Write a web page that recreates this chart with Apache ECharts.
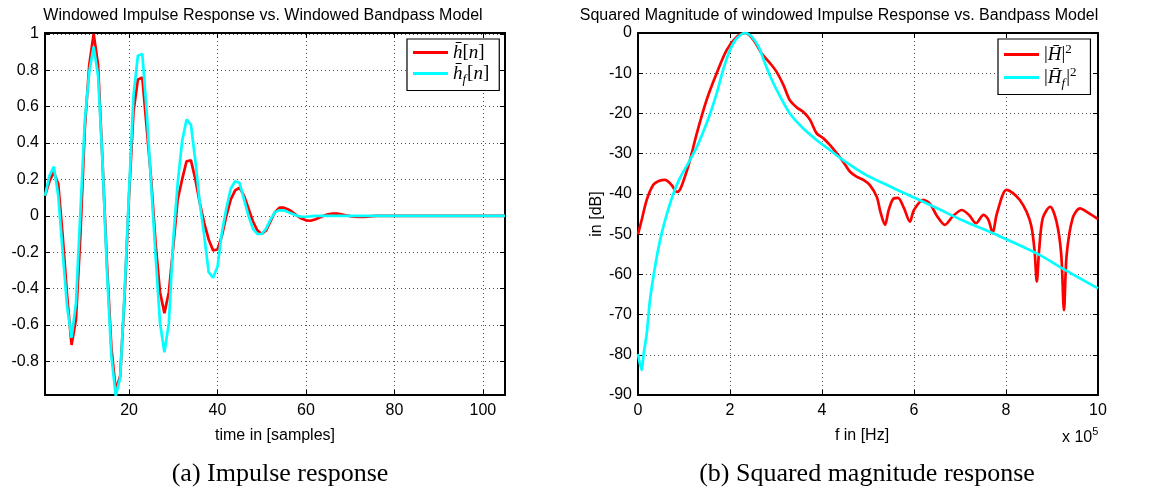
<!DOCTYPE html>
<html>
<head>
<meta charset="utf-8">
<script src="https://cdn.jsdelivr.net/npm/echarts@6/dist/echarts.min.js"></script>
<style>
html,body{margin:0;padding:0;background:#fff;}
#c{width:1157px;height:493px;}
</style>
</head>
<body>
<div id="c"></div>
<script>
// ---------- DATA ----------
// (a) impulse response, samples n = 1..105
const hRed = [0.11,0.19,0.24,0.175,-0.11,-0.44,-0.71,-0.57,-0.11,0.48,
  0.83,1.0,0.83,0.3,-0.26,-0.72,-0.96,-0.88,-0.44,0.11,
  0.57,0.75,0.76,0.48,0.2,-0.15,-0.42,-0.535,-0.42,-0.17,
  0.09,0.2,0.3,0.305,0.2,0.07,-0.04,-0.13,-0.19,-0.185,
  -0.11,0.0,0.09,0.14,0.155,0.11,0.04,-0.03,-0.08,-0.1,
  -0.08,-0.03,0.02,0.045,0.045,0.035,0.02,0.0,-0.015,-0.025,
  -0.027,-0.02,-0.01,0.0,0.008,0.012,0.012,0.008,0.003,-0.002,
  -0.005,-0.006,-0.006,-0.004,-0.002,0,0,0,0,0,
  0,0,0,0,0,0,0,0,0,0,
  0,0,0,0,0,0,0,0,0,0,
  0,0,0,0,0];
const hCyan = [0.11,0.22,0.27,0.11,-0.2,-0.5,-0.67,-0.48,0.02,0.52,
  0.79,0.93,0.77,0.3,-0.3,-0.77,-0.99,-0.89,-0.42,0.13,
  0.66,0.88,0.89,0.57,0.17,-0.22,-0.59,-0.75,-0.59,-0.13,
  0.18,0.41,0.53,0.5,0.3,0.07,-0.11,-0.31,-0.34,-0.28,
  -0.09,0.04,0.15,0.19,0.18,0.09,0.0,-0.07,-0.1,-0.1,
  -0.07,-0.02,0.02,0.03,0.03,0.02,0.01,0.0,-0.005,-0.005,
  -0.003,0,0,0,0,0,0,0,0,0,
  0,0,0,0,0,0,0,0,0,0,
  0,0,0,0,0,0,0,0,0,0,
  0,0,0,0,0,0,0,0,0,0,
  0,0,0,0,0];
const impulseXTicks = [20,40,60,80,100];
const impulseYTicks = [-0.8,-0.6,-0.4,-0.2,0,0.2,0.4,0.6,0.8,1];

// (b) squared magnitude, f in units of 1e5 Hz, dB
const magRedF = [0,0.08,0.19,0.33,0.45,0.59,0.73,0.84,0.91,1.02,1.13,1.28,1.49,1.71,1.93,2.15,2.33,
  2.51,2.69,2.87,3.01,3.16,3.30,3.45,3.59,3.74,3.88,4.03,4.17,4.32,4.46,4.61,4.75,4.9,5.04,5.19,5.27,
  5.37,5.45,5.55,5.65,5.78,5.91,6.0,6.2,6.35,6.5,6.67,6.85,7.04,7.2,7.35,7.51,7.62,7.71,7.8,8.01,
  8.15,8.3,8.45,8.55,8.62,8.67,8.72,8.8,8.96,9.1,9.2,9.26,9.32,9.45,9.61,9.8,10];
const magRedDb = [-50,-46.5,-41.5,-37.8,-36.8,-36.5,-37.8,-39.5,-39,-35.7,-31.6,-24.9,-16.7,-10,-4.2,-0.9,0,
  -1.7,-5.1,-7.5,-9.6,-12.9,-16.7,-18.5,-19.6,-21.6,-24.9,-26.2,-27.8,-29.9,-32,-34.5,-35.7,-36.5,-37.8,-40.7,-44.5,
  -47.7,-44,-41.2,-41,-43.5,-46.9,-44,-41.5,-42.5,-45.5,-47.7,-45.5,-44,-45.3,-47.3,-45.2,-46.5,-49.8,-45,-39,
  -39.8,-41.5,-44.5,-48,-54,-61.8,-54,-46,-43.2,-47,-55,-68.9,-55,-46,-43.6,-44.8,-46.3];
const magCyanF = [0,0.08,0.12,0.19,0.26,0.37,0.48,0.59,0.77,0.91,1.09,1.28,1.42,1.57,1.71,1.85,2.0,2.15,2.33,
  2.47,2.62,2.76,2.91,3.09,3.30,3.59,3.88,4.17,4.46,4.9,5.26,5.77,6.49,7.0,7.72,8.67,9.28,10];
const magCyanDb = [-79.8,-83.8,-80,-74.7,-66.4,-58.1,-51.5,-46.5,-39.9,-36.1,-32.4,-28.3,-24.5,-20,-15,-9.2,-4.2,-1.3,0,
  -0.9,-3.4,-7.5,-11.7,-15.8,-20,-23.7,-26.6,-29.1,-31.6,-34.9,-37,-39.7,-43.5,-46.3,-49.8,-54.8,-58.9,-63.5];

// ---------- CHART ----------
const FONT = 'Liberation Sans';
const SERIF = 'Liberation Serif';
const chart = echarts.init(document.getElementById('c'), null, {renderer:'canvas'});

const pairsN = arr => arr.map((v,i)=>[i+1,v]);
const zip = (a,b) => a.map((v,i)=>[v,b[i]]);

const gridLine = {show:true, lineStyle:{color:'#222', width:1, type:[1,3], opacity:0.8}};
const frameLine = {show:true, onZero:false, lineStyle:{color:'#000', width:2}};
const tickIn = (vals) => ({show:true, inside:true, length:5, lineStyle:{color:'#000', width:1}, customValues: vals});
const tickPlain = {show:true, inside:true, length:5, lineStyle:{color:'#000', width:1}};
const lbl = (extra) => Object.assign({color:'#000', fontFamily:FONT, fontSize:16}, extra||{});

const richMath = {
  it:{fontFamily:SERIF, fontStyle:'italic', fontSize:19, color:'#000'},
  rm:{fontFamily:SERIF, fontSize:19, color:'#000'},
  sub:{fontFamily:SERIF, fontStyle:'italic', fontSize:13, color:'#000', padding:[13,1,0,0]},
  sup:{fontFamily:SERIF, fontSize:13, color:'#000', padding:[0,0,10,0]}
};

const option = {
  animation:false,
  backgroundColor:'#fff',
  title:[
    {text:'Windowed Impulse Response vs. Windowed Bandpass Model', left:258, top:3, textAlign:'center',
     textStyle:{fontFamily:FONT, fontSize:16, fontWeight:'normal', color:'#000'}},
    {text:'Squared Magnitude of windowed Impulse Response vs. Bandpass Model', left:834, top:3, textAlign:'center',
     textStyle:{fontFamily:FONT, fontSize:16, fontWeight:'normal', color:'#000'}},
    {text:'(a) Impulse response', left:275, top:456, textAlign:'center',
     textStyle:{fontFamily:SERIF, fontSize:26, fontWeight:'normal', color:'#000'}},
    {text:'(b) Squared magnitude response', left:862, top:456, textAlign:'center',
     textStyle:{fontFamily:SERIF, fontSize:26, fontWeight:'normal', color:'#000'}}
  ],
  graphic:[
    {type:'text', left:1062, top:426, style:{text:'{a|x 10}{b|5}', rich:{
      a:{fontFamily:FONT, fontSize:16, color:'#000'},
      b:{fontFamily:FONT, fontSize:11, color:'#000', padding:[0,0,12,0]}}}}
  ],
  legend:[
    {data:['hbar','hbarf'], orient:'vertical', left:407, top:39, padding:[4,10,4,6], itemGap:2,
     itemWidth:35, itemHeight:3, icon:'rect', borderColor:'#000', borderWidth:1.2, backgroundColor:'#fff',
     formatter: n => n==='hbar' ? '{it|h\u0304}{rm|[}{it|n}{rm|]}' : '{it|h\u0304}{sub|f}{rm|[}{it|n}{rm|]}',
     textStyle:{rich:richMath}},
    {data:['Hbar','Hbarf'], orient:'vertical', left:998, top:39, padding:[4,14,4,6], itemGap:2,
     itemWidth:35, itemHeight:3, icon:'rect', borderColor:'#000', borderWidth:1.2, backgroundColor:'#fff',
     formatter: n => n==='Hbar' ? '{rm||}{it|H\u0304}{rm||}{sup|2}' : '{rm||}{it|H\u0304}{sub|f}{rm||}{sup|2}',
     textStyle:{rich:richMath}}
  ],
  grid:[
    {left:45, top:33, width:460, height:362, show:false},
    {left:638, top:33, width:460, height:362, show:false}
  ],
  xAxis:[
    {gridIndex:0, type:'value', min:1, max:105, position:'bottom',
     axisLine:frameLine, axisTick:tickIn(impulseXTicks), splitLine:gridLine,
     axisLabel:lbl({margin:8, customValues:impulseXTicks}),
     name:'time in [samples]', nameLocation:'middle', nameGap:33,
     nameTextStyle:{fontFamily:FONT, fontSize:16, color:'#000'}},
    {gridIndex:0, type:'value', min:1, max:105, position:'top',
     axisLine:frameLine, axisTick:tickIn(impulseXTicks), splitLine:{show:false}, axisLabel:{show:false}},
    {gridIndex:1, type:'value', min:0, max:10, interval:2, position:'bottom',
     axisLine:frameLine, axisTick:tickPlain, splitLine:gridLine,
     axisLabel:lbl({margin:8}),
     name:'f in [Hz]', nameLocation:'middle', nameGap:33,
     nameTextStyle:{fontFamily:FONT, fontSize:16, color:'#000', padding:[0,0,0,-12]}},
    {gridIndex:1, type:'value', min:0, max:10, interval:2, position:'top',
     axisLine:frameLine, axisTick:tickPlain, splitLine:{show:false}, axisLabel:{show:false}}
  ],
  yAxis:[
    {gridIndex:0, type:'value', min:-0.985, max:1.005, position:'left',
     axisLine:frameLine, axisTick:tickIn(impulseYTicks), splitLine:gridLine,
     axisLabel:lbl({margin:6, customValues:impulseYTicks})},
    {gridIndex:0, type:'value', min:-0.985, max:1.005, position:'right',
     axisLine:frameLine, axisTick:tickIn(impulseYTicks), splitLine:{show:false}, axisLabel:{show:false}},
    {gridIndex:1, type:'value', min:-90, max:0, interval:10, position:'left',
     axisLine:frameLine, axisTick:tickPlain, splitLine:gridLine,
     axisLabel:lbl({margin:6}),
     name:'in [dB]', nameLocation:'middle', nameGap:32, nameRotate:90,
     nameTextStyle:{fontFamily:FONT, fontSize:16, color:'#000'}},
    {gridIndex:1, type:'value', min:-90, max:0, interval:10, position:'right',
     axisLine:frameLine, axisTick:tickPlain, splitLine:{show:false}, axisLabel:{show:false}}
  ],
  series:[
    {name:'hbar', type:'line', xAxisIndex:0, yAxisIndex:0, data:pairsN(hRed), symbol:'none',
     lineStyle:{color:'#ff0000', width:2.7}, itemStyle:{color:'#ff0000'}},
    {name:'hbarf', type:'line', xAxisIndex:0, yAxisIndex:0, data:pairsN(hCyan), symbol:'none',
     lineStyle:{color:'#00ffff', width:2.7}, itemStyle:{color:'#00ffff'}},
    {name:'Hbar', type:'line', xAxisIndex:2, yAxisIndex:2, data:zip(magRedF, magRedDb), symbol:'none',
     smooth:0.3, lineStyle:{color:'#ff0000', width:2.7}, itemStyle:{color:'#ff0000'}},
    {name:'Hbarf', type:'line', xAxisIndex:2, yAxisIndex:2, data:zip(magCyanF, magCyanDb), symbol:'none',
     smooth:0.3, lineStyle:{color:'#00ffff', width:2.7}, itemStyle:{color:'#00ffff'}}
  ]
};
chart.setOption(option);
</script>
</body>
</html>
